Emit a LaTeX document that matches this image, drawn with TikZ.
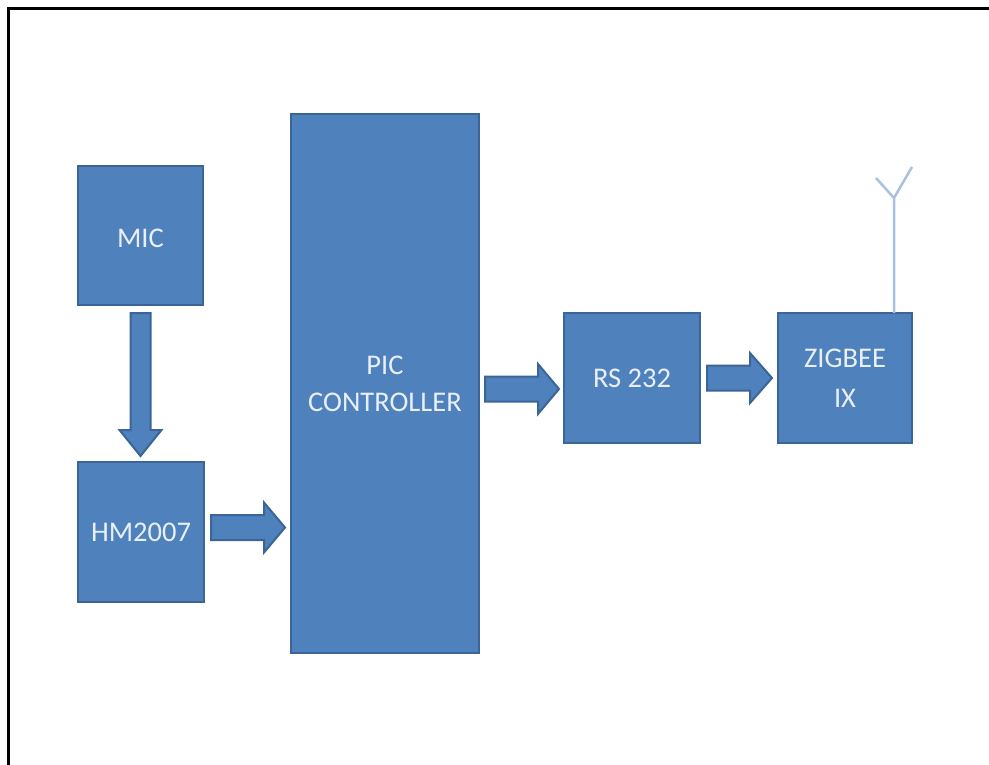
\documentclass[tikz,border=0pt]{standalone}
\usepackage{fontspec}
\setmainfont{Carlito}
\usetikzlibrary{calc}
\definecolor{blockfill}{HTML}{4F81BD}
\definecolor{blockline}{HTML}{3A6596}
\definecolor{antennaline}{HTML}{A9C1E0}
\definecolor{labeltext}{HTML}{E8EFF7}
\tikzset{
  block/.style={draw=blockline,fill=blockfill,line width=2pt,inner sep=0pt,outer sep=0pt,
    text=labeltext,align=center,font=\fontsize{28.5}{37}\selectfont},
  blockarrow/.style={draw=blockline,fill=blockfill,line width=2pt,line join=miter},
  antenna/.style={draw=antennaline,line width=2.5pt},
  frameline/.style={draw=black,line width=3pt}
}
% #1 start, #2 end, #3 shaft half width, #4 head half width, #5 head length
\newcommand{\blockarr}[5]{%
  \coordinate (hb) at ($(#2)!#5 pt!(#1)$);
  \draw[blockarrow]
    ($(#1)!#3 pt!90:(#2)$) -- ($(hb)!#3 pt!90:(#2)$) -- ($(hb)!#4 pt!90:(#2)$) -- (#2)
    -- ($(hb)!#4 pt!-90:(#2)$) -- ($(hb)!#3 pt!-90:(#2)$) -- ($(#1)!#3 pt!-90:(#2)$) -- cycle;
}
\begin{document}
\begin{tikzpicture}[x=1pt,y=-1pt]
\useasboundingbox (0,0) rectangle (989,765);
\fill[white] (0,0) rectangle (989,765);
\coordinate (fa) at (8.5,765);
\coordinate (fb) at (8.5,9);
\coordinate (fc) at (989,9);
\draw[frameline,line join=miter] (fa) -- (fb) -- (fc);
\node[block,minimum width=125pt,minimum height=139pt] (mic) at (140.5,235.5) {\raisebox{-3pt}[\height][\depth]{MIC}};
\node[block,minimum width=126pt,minimum height=140pt] (hm) at (141,532) {HM2007};
\node[block,minimum width=188pt,minimum height=539pt] (pic) at (385,383.5) {PIC\\CONTROLLER};
\node[block,minimum width=136pt,minimum height=130pt] (rs) at (632,378) {RS 232};
\node[block,minimum width=134pt,minimum height=130pt] (zig) at (845,378) {ZIGBEE\\[3pt]IX};
% block arrows
\coordinate (a1) at ([yshift=-8pt]mic.south);
\coordinate (ap) at (a1 |- hm.north);
\coordinate (a2) at ([yshift=6pt]ap);
\blockarr{a1}{a2}{10}{21}{26}
\coordinate (b1) at ([xshift=7pt,yshift=4.5pt]hm.east);
\coordinate (bp) at (hm.east -| pic.west);
\coordinate (b2) at ([xshift=-6pt,yshift=4.5pt]bp);
\blockarr{b1}{b2}{12.5}{25}{21}
\coordinate (c1) at ([xshift=6pt,yshift=-5.5pt]pic.east);
\coordinate (cp) at (c1 -| rs.west);
\coordinate (c2) at ([xshift=-5pt]cp);
\blockarr{c1}{c2}{12.5}{25}{21}
\coordinate (d1) at ([xshift=7pt]rs.east);
\coordinate (d2) at ([xshift=-6pt]zig.west);
\blockarr{d1}{d2}{12.5}{25}{22}
% antenna
\coordinate (z0) at ([xshift=49pt]zig.north);
\coordinate (z1) at (894,198);
\coordinate (z2) at (876,178);
\coordinate (z3) at (912,167);
\draw[antenna] (z0) -- (z1) (z2) -- (z1) -- (z3);
\end{tikzpicture}
\end{document}
